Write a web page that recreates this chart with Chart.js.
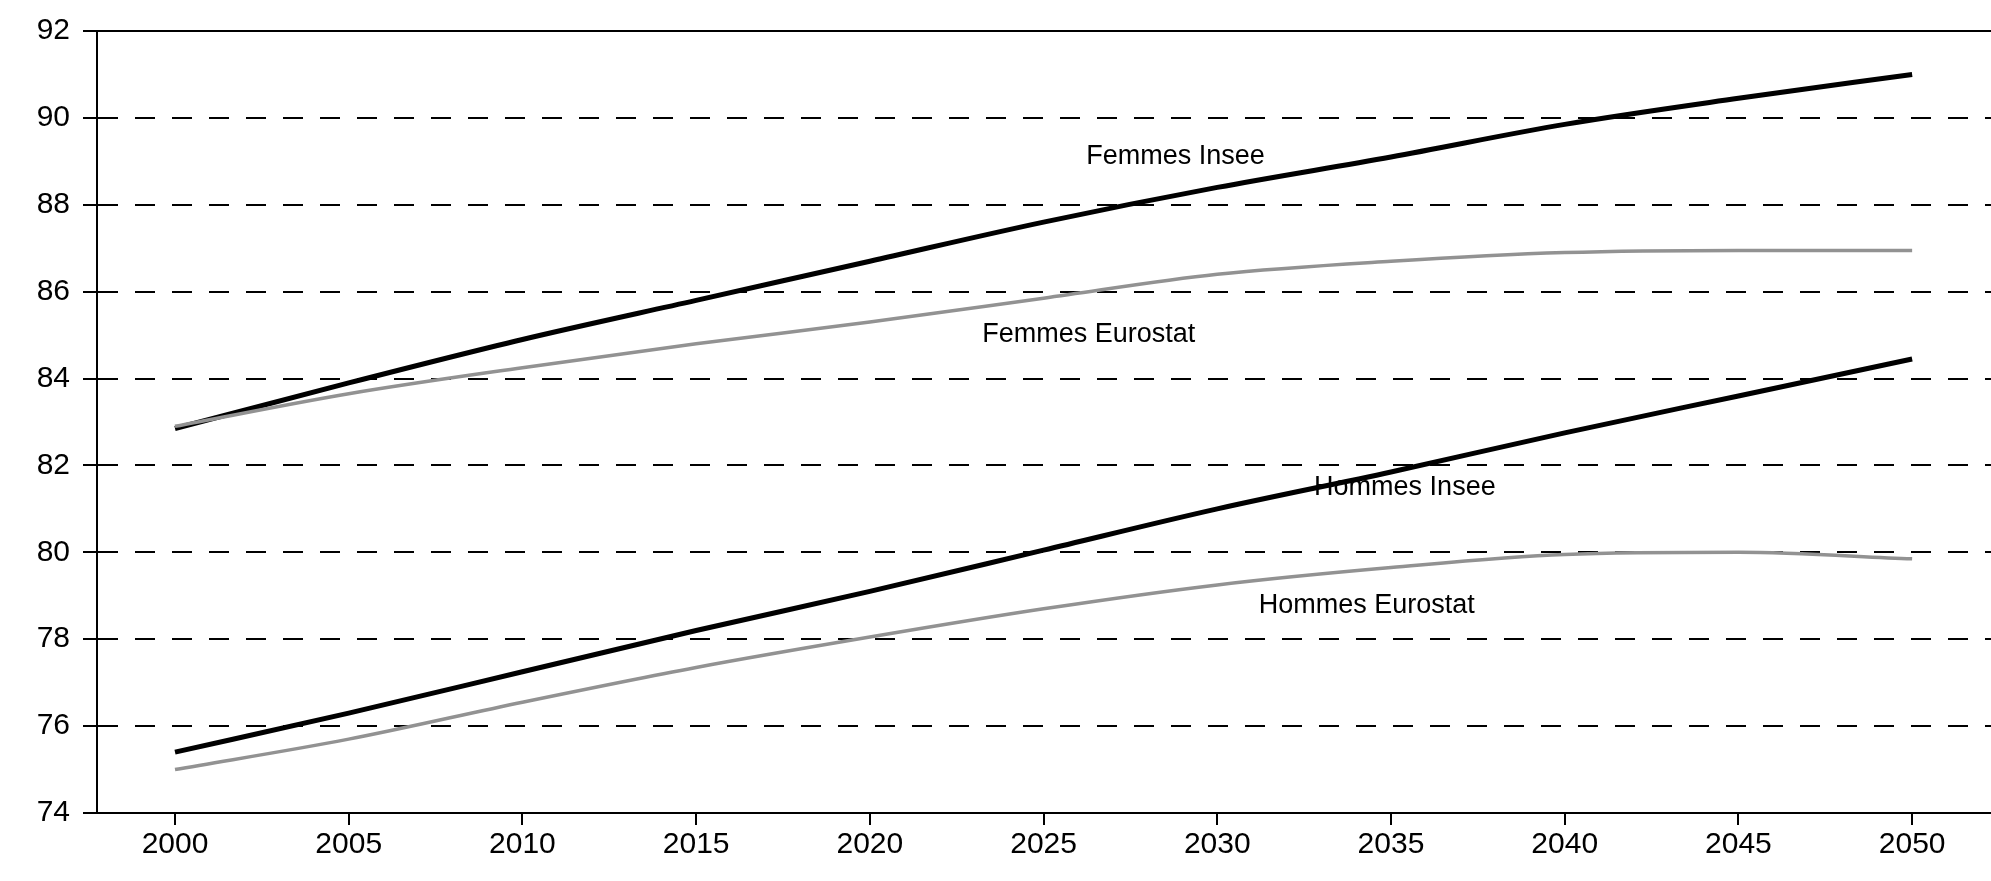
<!DOCTYPE html>
<html>
<head>
<meta charset="utf-8">
<script src="https://cdn.jsdelivr.net/npm/chart.js@4/dist/chart.umd.min.js"></script>
<style>
  body { margin: 0; background: #fff; }
  #box { width: 1991px; height: 881px; }
</style>
</head>
<body>
<div id="box"><canvas id="graphe"></canvas></div>
<script>
// espérance de vie à la naissance, projections Insee / Eurostat
const annees = [2000, 2005, 2010, 2015, 2020, 2025, 2030, 2035, 2040, 2045, 2050];
const femmesInsee    = [82.85, 83.9, 84.9, 85.8, 86.7, 87.6, 88.4, 89.1, 89.85, 90.45, 91.0];
const femmesEurostat = [82.9, 83.65, 84.25, 84.8, 85.3, 85.85, 86.4, 86.7, 86.9, 86.95, 86.95];
const hommesInsee    = [75.4, 76.3, 77.25, 78.2, 79.1, 80.05, 81.0, 81.85, 82.75, 83.6, 84.45];
const hommesEurostat = [75.0, 75.7, 76.55, 77.35, 78.05, 78.7, 79.25, 79.65, 79.95, 80.0, 79.85];

const ticksX = [2000, 2005, 2010, 2015, 2020, 2025, 2030, 2035, 2040, 2045, 2050];
const ticksY = [74, 76, 78, 80, 82, 84, 86, 88, 90, 92];

// étiquettes posées sur le graphe (année, valeur)
const etiquettes = [
    { texte: "Femmes Insee", x: 2028.8, y: 89.1 },
    { texte: "Femmes Eurostat", x: 2026.3, y: 85.02 },
    { texte: "Hommes Insee", x: 2035.4, y: 81.5 },
    { texte: "Hommes Eurostat", x: 2034.3, y: 78.78 }
];

const police = "'Liberation Sans', Arial, sans-serif";

function serie(nom, valeurs, couleur, epaisseur){
    return {
        label: nom,
        data: annees.map((a, i) => ({ x: a, y: valeurs[i] })),
        borderColor: couleur,
        borderWidth: epaisseur,
        pointRadius: 0,
        fill: false,
        cubicInterpolationMode: "monotone"
    };
}

const pluginEtiquettes = {
    id: "etiquettes",
    afterDatasetsDraw(chart){
        const ctx = chart.ctx;
        const sx = chart.scales.x, sy = chart.scales.y;
        ctx.save();
        ctx.font = "27px " + police;
        ctx.fillStyle = "#000";
        ctx.textAlign = "center";
        ctx.textBaseline = "middle";
        etiquettes.forEach(e => {
            ctx.fillText(e.texte, sx.getPixelForValue(e.x), sy.getPixelForValue(e.y));
        });
        ctx.restore();
    }
};

const graphe = new Chart(document.getElementById("graphe"), {
    type: "line",
    data: {
        datasets: [
            serie("Femmes Eurostat", femmesEurostat, "#929292", 3.5),
            serie("Hommes Eurostat", hommesEurostat, "#929292", 3.5),
            serie("Femmes Insee", femmesInsee, "#000", 5),
            serie("Hommes Insee", hommesInsee, "#000", 5)
        ]
    },
    options: {
        responsive: true,
        maintainAspectRatio: false,
        animation: false,
        layout: { padding: { top: 15, right: 0, left: 0, bottom: 0 } },
        plugins: {
            legend: { display: false },
            tooltip: { enabled: false }
        },
        scales: {
            x: {
                type: "linear",
                min: 1997.755,
                max: 2052.27,
                afterBuildTicks: s => { s.ticks = ticksX.map(v => ({ value: v })); },
                afterFit: s => { s.height = 68; },
                grid: {
                    drawOnChartArea: false,
                    drawTicks: true,
                    tickLength: 12,
                    color: "#000",
                    lineWidth: 2
                },
                border: { display: true, color: "#000", width: 2 },
                ticks: {
                    color: "#000",
                    padding: 2,
                    maxRotation: 0,
                    font: { family: police, size: 30 },
                    callback: v => String(v)
                }
            },
            y: {
                min: 74,
                max: 92,
                afterBuildTicks: s => { s.ticks = ticksY.map(v => ({ value: v })); },
                afterFit: s => { s.width = 97; },
                grid: {
                    color: "#000",
                    lineWidth: 2,
                    tickLength: 14,
                    tickBorderDash: []
                },
                border: {
                    display: true,
                    color: "#000",
                    width: 2,
                    dash: ctx => (ctx.tick && ctx.tick.value === 92) ? [] : [20, 17]
                },
                ticks: {
                    color: "#000",
                    padding: 13,
                    font: { family: police, size: 30 }
                }
            }
        }
    },
    plugins: [pluginEtiquettes]
});
</script>
</body>
</html>
